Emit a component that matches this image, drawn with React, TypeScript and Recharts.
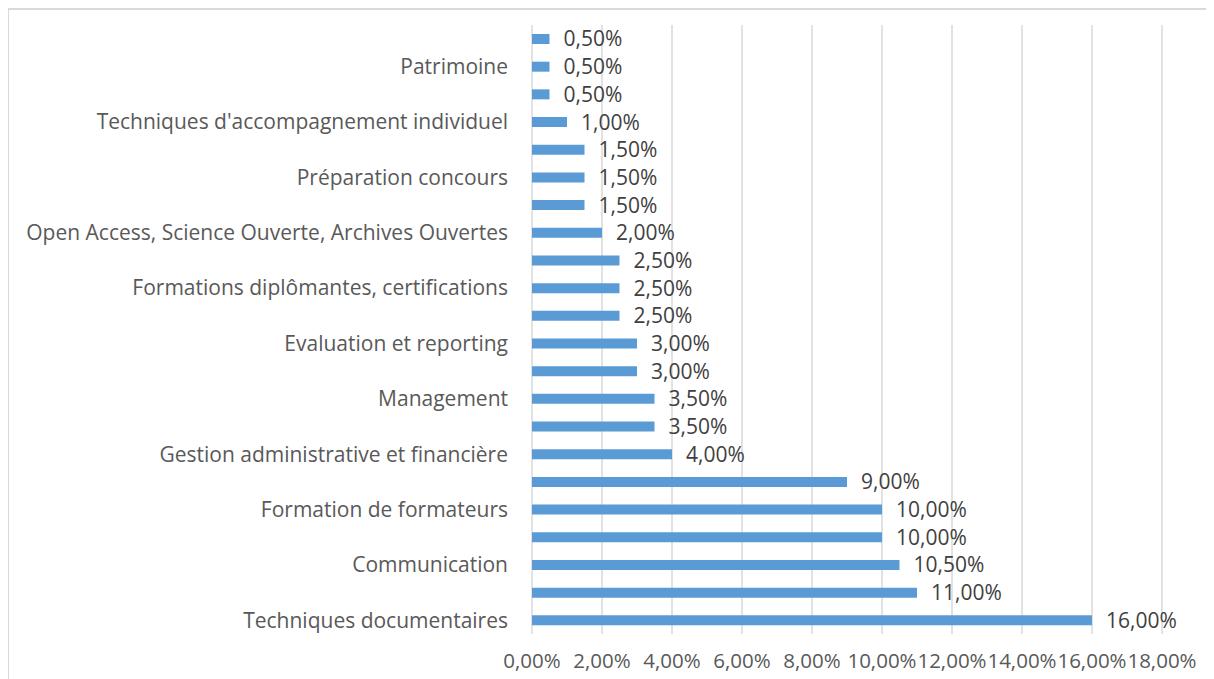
import React from 'react';
import {
  BarChart,
  Bar,
  XAxis,
  YAxis,
  CartesianGrid,
  LabelList,
} from 'recharts';

// top to bottom, as in the picture; unlabelled rows keep an empty name
const CATEGORIES = [
  '',
  'Patrimoine',
  '',
  "Techniques d'accompagnement individuel",
  '',
  'Préparation concours',
  '',
  'Open Access, Science Ouverte, Archives Ouvertes',
  '',
  'Formations diplômantes, certifications',
  '',
  'Evaluation et reporting',
  '',
  'Management',
  '',
  'Gestion administrative et financière',
  '',
  'Formation de formateurs',
  '',
  'Communication',
  '',
  'Techniques documentaires',
];

const SHARES = [
  0.5, 0.5, 0.5, 1.0, 1.5, 1.5, 1.5, 2.0, 2.5, 2.5, 2.5,
  3.0, 3.0, 3.5, 3.5, 4.0, 9.0, 10.0, 10.0, 10.5, 11.0, 16.0,
];

const X_TICKS = [0, 2, 4, 6, 8, 10, 12, 14, 16, 18];

const FONT = '"Open Sans", "Noto Sans", sans-serif';
const BAR_COLOR = '#5B9BD5';
const GRID_COLOR = '#D9D9D9';
const TEXT_COLOR = '#595959';

const fmtPct = (v: number) => `${v.toFixed(2).replace('.', ',')}%`;

const data = CATEGORIES.map((name, i) => ({ name, share: SHARES[i] }));

export default function App() {
  return (
    <div
      style={{
        position: 'relative',
        left: -1,
        width: 1207,
        height: 671,
        borderTop: `2px solid ${GRID_COLOR}`,
        borderLeft: `2px solid ${GRID_COLOR}`,
        boxSizing: 'border-box',
        background: '#fff',
        fontFamily: FONT,
      }}
    >
      <BarChart
        width={1205}
        height={669}
        data={data}
        layout="vertical"
        margin={{ top: 15, right: 52, left: 0, bottom: 0 }}
        barCategoryGap={0}
      >
        <CartesianGrid stroke={GRID_COLOR} strokeWidth={1.5} horizontal={false} />
        <XAxis
          type="number"
          domain={[0, 18]}
          ticks={X_TICKS}
          tickFormatter={fmtPct}
          interval={0}
          axisLine={false}
          tickLine={false}
          tickSize={0}
          tickMargin={19}
          height={45}
          tick={{ fill: TEXT_COLOR, fontSize: 20.5, fontFamily: FONT }}
        />
        <YAxis
          type="category"
          dataKey="name"
          width={523}
          interval={0}
          axisLine={false}
          tickLine={false}
          tickSize={0}
          tickMargin={24}
          tick={{ fill: TEXT_COLOR, fontSize: 21, fontFamily: FONT }}
        />
        <Bar dataKey="share" fill={BAR_COLOR} barSize={10} isAnimationActive={false}>
          <LabelList
            dataKey="share"
            position="right"
            offset={14}
            formatter={(v: number) => fmtPct(v)}
            style={{ fill: '#404040', fontSize: 21, fontFamily: FONT }}
          />
        </Bar>
      </BarChart>
    </div>
  );
}
